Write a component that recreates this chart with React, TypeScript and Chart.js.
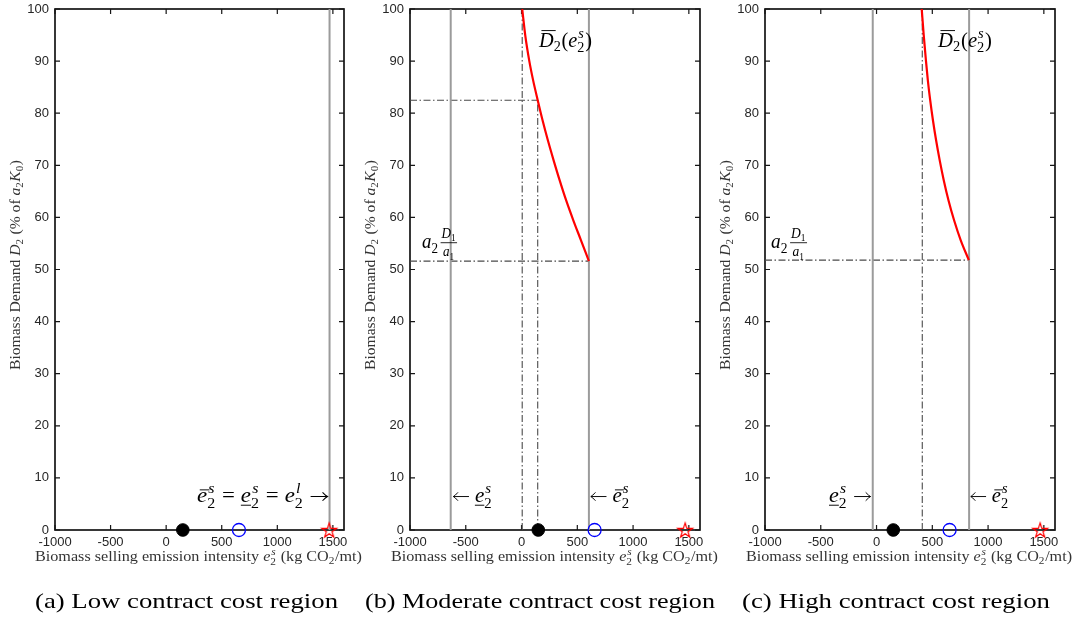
import React, { useEffect, useRef } from 'react';
import { Chart, registerables } from 'chart.js';
Chart.register(...registerables);

// ---------- data ----------
const X_TICKS = [-1000, -500, 0, 500, 1000, 1500];
const Y_TICKS = [0, 10, 20, 30, 40, 50, 60, 70, 80, 90, 100];
const X_MIN = -1000;
const X_MAX = 1600;
const Y_MIN = 0;
const Y_MAX = 100;

// markers on the horizontal axis: black dot, blue circle, red star
const MARKER_X = [150, 655, 1467];
const MARKER_Y = [0, 0, 0];

// panel (a)
const A_GRAY_X = [1470];

// panel (b)
const B_GRAY_X = [-635, 604];
const B_CURVE_X = [6, 33, 69, 104, 145, 189, 236, 287, 342, 401, 465, 533, 604];
const B_CURVE_Y = [100, 95, 90.1, 86.3, 82.5, 78.6, 74.8, 71, 67.1, 63.2, 59.4, 55.6, 51.6];
const B_VDASH_X = [6, 145];
const B_VDASH_TOP = [100, 82.5];
const B_HDASH_Y = [82.5, 51.6];
const B_HDASH_END = [145, 604];

// panel (c)
const C_GRAY_X = [-34, 830];
const C_CURVE_X = [405, 423, 443, 460, 481, 506, 534, 566, 603, 646, 696, 755, 828];
const C_CURVE_Y = [100, 95, 90.1, 86.3, 82.5, 78.6, 74.8, 71, 67.1, 63.2, 59.4, 55.6, 51.8];
const C_VDASH_X = [410];
const C_VDASH_TOP = [100];
const C_HDASH_Y = [51.8];
const C_HDASH_END = [828];

// ---------- text helpers ----------
const SERIF = '"Liberation Serif", "Times New Roman", serif';
const SANS = '"Liberation Sans", Arial, sans-serif';

type Seg =
  | { k: 't' | 'bar' | 'ubar'; s: string; i?: boolean; h?: number }
  | { k: 'ss'; sup?: string; sub?: string }
  | { k: 'sp'; em: number }
  | { k: 'arr'; dir: number }
  | { k: 'frac'; num: Seg[]; den: Seg[] };

const fnt = (size: number, it?: boolean) => `${it ? 'italic ' : ''}${size}px ${SERIF}`;

function segWidth(ctx: CanvasRenderingContext2D, g: any, size: number): number {
  if (g.k === 't' || g.k === 'bar' || g.k === 'ubar') {
    ctx.font = fnt(size, g.i);
    return ctx.measureText(g.s).width;
  }
  if (g.k === 'ss') {
    const s = size * 0.7;
    let a = 0, b = 0;
    if (g.sup) { ctx.font = fnt(s, true); a = ctx.measureText(g.sup).width + size * 0.05; }
    if (g.sub) { ctx.font = fnt(s, false); b = ctx.measureText(g.sub).width; }
    return Math.max(a, b) + size * 0.04;
  }
  if (g.k === 'sp') return g.em * size;
  if (g.k === 'arr') return 0.8 * size;
  if (g.k === 'frac') {
    const s = size * 0.7;
    return Math.max(mathWidth(ctx, g.num, s), mathWidth(ctx, g.den, s)) + size * 0.2;
  }
  return 0;
}

function mathWidth(ctx: CanvasRenderingContext2D, segs: Seg[], size: number) {
  let w = 0;
  for (const g of segs) w += segWidth(ctx, g, size);
  return w;
}

function drawMath(ctx: CanvasRenderingContext2D, segs: Seg[], x: number, y: number, size: number) {
  let cx = x;
  ctx.textBaseline = 'alphabetic';
  ctx.textAlign = 'left';
  for (const g of segs as any[]) {
    const w = segWidth(ctx, g, size);
    if (g.k === 't' || g.k === 'bar' || g.k === 'ubar') {
      ctx.font = fnt(size, g.i);
      ctx.fillText(g.s, cx, y);
      if (g.k === 'bar') {
        const yy = y - (g.h ?? 0.6) * size;
        const off = g.i ? size * 0.12 : 0;
        ctx.fillRect(cx + off, yy, w - size * 0.02, Math.max(0.8, size * 0.045));
      }
      if (g.k === 'ubar') {
        ctx.fillRect(cx, y + size * 0.13, w, Math.max(0.8, size * 0.045));
      }
    } else if (g.k === 'ss') {
      const s = size * 0.7;
      if (g.sup) {
        ctx.font = fnt(s, true);
        ctx.fillText(g.sup, cx + size * 0.05, y - (g.sub ? 0.42 : 0.4) * size);
      }
      if (g.sub) {
        ctx.font = fnt(s, false);
        ctx.fillText(g.sub, cx, y + (g.sup ? 0.27 : 0.22) * size);
      }
    } else if (g.k === 'arr') {
      const ay = y - 0.26 * size;
      const x0 = cx + 0.04 * size;
      const x1 = cx + w - 0.02 * size;
      const tip = g.dir > 0 ? x1 : x0;
      const back = g.dir > 0 ? -1 : 1;
      ctx.save();
      ctx.strokeStyle = ctx.fillStyle as string;
      ctx.lineWidth = Math.max(0.9, size * 0.045);
      ctx.beginPath();
      ctx.moveTo(x0, ay);
      ctx.lineTo(x1, ay);
      ctx.moveTo(tip + back * 0.22 * size, ay - 0.2 * size);
      ctx.quadraticCurveTo(tip + back * 0.08 * size, ay - 0.04 * size, tip, ay);
      ctx.quadraticCurveTo(tip + back * 0.08 * size, ay + 0.04 * size, tip + back * 0.22 * size, ay + 0.2 * size);
      ctx.stroke();
      ctx.restore();
    } else if (g.k === 'frac') {
      const s = size * 0.7;
      const wn = mathWidth(ctx, g.num, s);
      const wd = mathWidth(ctx, g.den, s);
      const W = Math.max(wn, wd);
      const pad = size * 0.1;
      drawMath(ctx, g.num, cx + pad + (W - wn) / 2, y - 0.5 * size, s);
      drawMath(ctx, g.den, cx + pad + (W - wd) / 2, y + 0.4 * size, s);
      ctx.fillRect(cx + pad * 0.5, y - 0.27 * size, W + pad, Math.max(0.7, size * 0.04));
    }
    cx += w;
  }
}

function drawFit(
  ctx: CanvasRenderingContext2D, segs: Seg[], x: number, y: number, size: number,
  targetW: number | null, align: 'left' | 'right' | 'center'
) {
  const nat = mathWidth(ctx, segs, size);
  let sx = targetW ? targetW / nat : 1;
  sx = Math.max(0.75, Math.min(1.35, sx));
  const W = nat * sx;
  const sx0 = align === 'left' ? x : align === 'right' ? x - W : x - W / 2;
  ctx.save();
  ctx.translate(sx0, y);
  ctx.scale(sx, 1);
  drawMath(ctx, segs, 0, 0, size);
  ctx.restore();
}

// common math pieces
const E_BAR: Seg[] = [{ k: 'bar', s: 'e', i: true, h: 0.6 }, { k: 'ss', sup: 's', sub: '2' }];
const E_UBAR: Seg[] = [{ k: 'ubar', s: 'e', i: true }, { k: 'ss', sup: 's', sub: '2' }];
const SP: Seg = { k: 'sp', em: 0.26 };
const R_ARR: Seg = { k: 'arr', dir: 1 };
const L_ARR: Seg = { k: 'arr', dir: -1 };
const ANN_A: Seg[] = [
  ...E_BAR, SP, { k: 't', s: '=' }, SP, ...E_UBAR, SP, { k: 't', s: '=' }, SP,
  { k: 't', s: 'e', i: true }, { k: 'ss', sup: 'l', sub: '2' }, SP, R_ARR,
];
const ANN_LEFT_UBAR: Seg[] = [L_ARR, SP, ...E_UBAR];
const ANN_LEFT_BAR: Seg[] = [L_ARR, SP, ...E_BAR];
const ANN_UBAR_RIGHT: Seg[] = [...E_UBAR, SP, R_ARR];
const D_BAR: Seg[] = [
  { k: 'bar', s: 'D', i: true, h: 0.78 }, { k: 'ss', sub: '2' }, { k: 't', s: '(' },
  { k: 't', s: 'e', i: true }, { k: 'ss', sup: 's', sub: '2' }, { k: 't', s: ')' },
];
const A_FRAC: Seg[] = [
  { k: 't', s: 'a', i: true }, { k: 'ss', sub: '2' }, { k: 'sp', em: 0.05 },
  { k: 'frac', num: [{ k: 't', s: 'D', i: true }, { k: 'ss', sub: '1' }], den: [{ k: 't', s: 'a', i: true }, { k: 'ss', sub: '1' }] },
];
const Y_TITLE: Seg[] = [
  { k: 't', s: 'Biomass Demand ' }, { k: 't', s: 'D', i: true }, { k: 'ss', sub: '2' },
  { k: 't', s: ' (% of ' }, { k: 't', s: 'a', i: true }, { k: 'ss', sub: '2' },
  { k: 't', s: 'K', i: true }, { k: 'ss', sub: '0' }, { k: 't', s: ')' },
];
const X_TITLE: Seg[] = [
  { k: 't', s: 'Biomass selling emission intensity ' }, { k: 't', s: 'e', i: true },
  { k: 'ss', sup: 's', sub: '2' }, { k: 't', s: ' (kg CO' }, { k: 'ss', sub: '2' }, { k: 't', s: '/mt)' },
];

// ---------- layout (page coordinates) ----------
const PLOT_TOP = 9;
const PLOT_BOTTOM = 530;
const X_SCALE_H = 30;
const ANN_SIZE = 21;

type Ann = { segs: Seg[]; x: number; y: number; w: number; align: 'left' | 'right' | 'center'; size: number };
type Panel = {
  cl: number; cw: number; left: number; right: number;
  gray: number[]; curveX?: number[]; curveY?: number[];
  vdx?: number[]; vdTop?: number[]; hdy?: number[]; hdEnd?: number[];
  caption: string; capX: number; capW: number; xtX: number; xtW: number; ytX: number;
  anns: Ann[];
};

const PANELS: Panel[] = [
  {
    cl: 0, cw: 366, left: 55, right: 344, gray: A_GRAY_X,
    caption: '(a) Low contract cost region', capX: 35, capW: 303, xtX: 35, xtW: 327, ytX: 20,
    anns: [{ segs: ANN_A, x: 328, y: 502, w: 131, align: 'right', size: ANN_SIZE }],
  },
  {
    cl: 360, cw: 360, left: 410, right: 700, gray: B_GRAY_X, curveX: B_CURVE_X, curveY: B_CURVE_Y,
    vdx: B_VDASH_X, vdTop: B_VDASH_TOP, hdy: B_HDASH_Y, hdEnd: B_HDASH_END,
    caption: '(b) Moderate contract cost region', capX: 365, capW: 350, xtX: 391, xtW: 327, ytX: 375,
    anns: [
      { segs: ANN_LEFT_UBAR, x: 452.5, y: 502, w: 40, align: 'left', size: ANN_SIZE },
      { segs: ANN_LEFT_BAR, x: 590, y: 502, w: 40, align: 'left', size: ANN_SIZE },
      { segs: D_BAR, x: 539, y: 46.5, w: 53, align: 'left', size: ANN_SIZE },
      { segs: A_FRAC, x: 422, y: 248, w: 36, align: 'left', size: ANN_SIZE },
    ],
  },
  {
    cl: 715, cw: 363, left: 765, right: 1055, gray: C_GRAY_X, curveX: C_CURVE_X, curveY: C_CURVE_Y,
    vdx: C_VDASH_X, vdTop: C_VDASH_TOP, hdy: C_HDASH_Y, hdEnd: C_HDASH_END,
    caption: '(c) High contract cost region', capX: 742, capW: 308, xtX: 746, xtW: 326, ytX: 730,
    anns: [
      { segs: ANN_UBAR_RIGHT, x: 871, y: 502, w: 42, align: 'right', size: ANN_SIZE },
      { segs: ANN_LEFT_BAR, x: 970, y: 502, w: 39, align: 'left', size: ANN_SIZE },
      { segs: D_BAR, x: 938, y: 46.5, w: 54, align: 'left', size: ANN_SIZE },
      { segs: A_FRAC, x: 771, y: 248, w: 37, align: 'left', size: ANN_SIZE },
    ],
  },
];

function makeStar(): HTMLCanvasElement {
  const c = document.createElement('canvas');
  c.width = 20;
  c.height = 20;
  const g = c.getContext('2d')!;
  g.strokeStyle = '#ff0000';
  g.lineWidth = 1.2;
  g.beginPath();
  for (let i = 0; i < 10; i++) {
    const r = i % 2 ? 3.0 : 7.8;
    const a = -Math.PI / 2 + (i * Math.PI) / 5;
    const px = 10 + r * Math.cos(a);
    const py = 10.8 + r * Math.sin(a);
    if (i === 0) g.moveTo(px, py); else g.lineTo(px, py);
  }
  g.closePath();
  g.stroke();
  return c;
}

const DASH = [7, 2.5, 1.5, 2.5];

function buildDatasets(p: Panel, star: HTMLCanvasElement) {
  const ds: any[] = [];
  ds.push({
    data: MARKER_X.map((x, i) => ({ x, y: MARKER_Y[i] })),
    showLine: false,
    clip: false,
    pointStyle: ['circle', 'circle', star],
    pointRadius: [6.3, 6.5, 8],
    pointBackgroundColor: ['#000000', 'rgba(0,0,0,0)', 'rgba(0,0,0,0)'],
    pointBorderColor: ['#000000', '#0000ff', '#ff0000'],
    pointBorderWidth: [1, 1.3, 1],
  });
  if (p.curveX && p.curveY) {
    ds.push({
      data: p.curveX.map((x, i) => ({ x, y: p.curveY![i] })),
      showLine: true,
      borderColor: '#ff0000',
      borderWidth: 2.2,
      pointRadius: 0,
      cubicInterpolationMode: 'monotone',
    });
  }
  for (const x of p.gray) {
    ds.push({
      data: [{ x, y: Y_MIN }, { x, y: Y_MAX }],
      showLine: true, borderColor: '#9b9b9b', borderWidth: 2, pointRadius: 0,
    });
  }
  (p.vdx || []).forEach((x, i) => {
    ds.push({
      data: [{ x, y: Y_MIN }, { x, y: p.vdTop![i] }],
      showLine: true, borderColor: '#4a4a4a', borderWidth: 1.1, borderDash: DASH, pointRadius: 0,
    });
  });
  (p.hdy || []).forEach((y, i) => {
    ds.push({
      data: [{ x: X_MIN, y }, { x: p.hdEnd![i], y }],
      showLine: true, borderColor: '#4a4a4a', borderWidth: 1.1, borderDash: DASH, pointRadius: 0,
    });
  });
  return ds;
}

function makeOverlay(p: Panel) {
  return {
    id: 'overlay',
    beforeDatasetsDraw(chart: any) {
      const { ctx, chartArea: a, scales } = chart;
      ctx.save();
      ctx.strokeStyle = '#151515';
      ctx.lineWidth = 1.2;
      ctx.beginPath();
      for (const v of X_TICKS) {
        const px = scales.x.getPixelForValue(v);
        ctx.moveTo(px, a.bottom); ctx.lineTo(px, a.bottom - 5);
        ctx.moveTo(px, a.top); ctx.lineTo(px, a.top + 5);
      }
      for (const v of Y_TICKS) {
        const py = scales.y.getPixelForValue(v);
        ctx.moveTo(a.left, py); ctx.lineTo(a.left + 5, py);
        ctx.moveTo(a.right, py); ctx.lineTo(a.right - 5, py);
      }
      ctx.stroke();
      ctx.lineWidth = 1.7;
      ctx.strokeRect(a.left, a.top, a.right - a.left, a.bottom - a.top);
      ctx.restore();
    },
    afterDraw(chart: any) {
      const ctx: CanvasRenderingContext2D = chart.ctx;
      const o = p.cl;
      ctx.save();
      ctx.fillStyle = '#000000';
      for (const an of p.anns) drawFit(ctx, an.segs, an.x - o, an.y, an.size, an.w, an.align);
      ctx.fillStyle = '#333333';
      drawFit(ctx, X_TITLE, p.xtX - o, 561, 14, p.xtW, 'left');
      ctx.save();
      ctx.translate(p.ytX - o, 265);
      ctx.rotate(-Math.PI / 2);
      drawFit(ctx, Y_TITLE, 0, 0, 14, 210, 'center');
      ctx.restore();
      ctx.fillStyle = '#000000';
      drawFit(ctx, [{ k: 't', s: p.caption }], p.capX - o, 608, 22, p.capW, 'left');
      ctx.restore();
    },
  };
}

function PanelChart({ p }: { p: Panel }) {
  const ref = useRef<HTMLCanvasElement>(null);
  useEffect(() => {
    const star = makeStar();
    const localLeft = p.left - p.cl;
    const localRight = p.right - p.cl;
    const chart = new Chart(ref.current!, {
      type: 'scatter',
      data: { datasets: buildDatasets(p, star) },
      options: {
        responsive: false,
        animation: false,
        devicePixelRatio: 1,
        layout: {
          padding: {
            left: 0,
            right: p.cw - localRight,
            top: PLOT_TOP,
            bottom: 619 - PLOT_BOTTOM - X_SCALE_H,
          },
        },
        plugins: { legend: { display: false }, tooltip: { enabled: false } },
        elements: { line: { fill: false } },
        scales: {
          x: {
            type: 'linear',
            min: X_MIN,
            max: X_MAX,
            afterBuildTicks: (s: any) => { s.ticks = X_TICKS.map((v) => ({ value: v })); },
            afterFit: (s: any) => { s.height = X_SCALE_H; s.paddingLeft = 0; s.paddingRight = 0; },
            grid: { display: false, drawTicks: false },
            border: { display: false },
            ticks: {
              font: { family: SANS, size: 13 },
              color: '#262626',
              padding: 5,
              maxRotation: 0,
              autoSkip: false,
              callback: (v: any) => String(v),
            },
          },
          y: {
            type: 'linear',
            min: Y_MIN,
            max: Y_MAX,
            afterBuildTicks: (s: any) => { s.ticks = Y_TICKS.map((v) => ({ value: v })); },
            afterFit: (s: any) => { s.width = localLeft; s.paddingTop = 0; s.paddingBottom = 0; },
            grid: { display: false, drawTicks: false },
            border: { display: false },
            ticks: {
              font: { family: SANS, size: 13 },
              color: '#262626',
              padding: 6,
              autoSkip: false,
              callback: (v: any) => String(v),
            },
          },
        },
      } as any,
      plugins: [makeOverlay(p)],
    });
    return () => chart.destroy();
  }, [p]);
  return (
    <canvas
      ref={ref}
      width={p.cw}
      height={619}
      style={{ position: 'absolute', left: p.cl, top: 0, width: p.cw, height: 619 }}
    />
  );
}

export default function App() {
  return (
    <div style={{ position: 'fixed', left: 0, top: 0, width: 1078, height: 619, background: '#ffffff', overflow: 'hidden' }}>
      {PANELS.map((p, i) => (
        <PanelChart key={i} p={p} />
      ))}
    </div>
  );
}
